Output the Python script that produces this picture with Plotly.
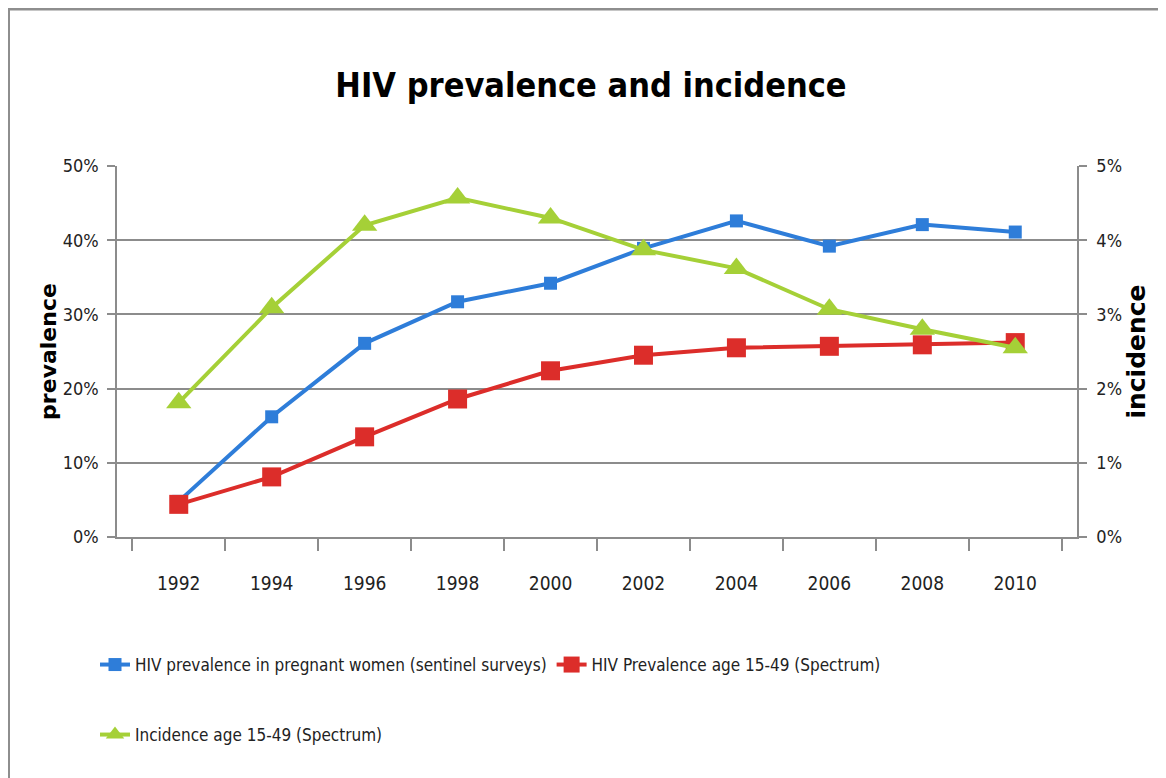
import plotly.graph_objects as go

years = ["1992", "1994", "1996", "1998", "2000", "2002", "2004", "2006", "2008", "2010"]
prev_pregnant = [0.048, 0.162, 0.261, 0.317, 0.342, 0.389, 0.426, 0.392, 0.421, 0.411]
prev_spectrum = [0.044, 0.081, 0.135, 0.186, 0.224, 0.245, 0.255, 0.257, 0.259, 0.262]
incidence = [0.0181, 0.0309, 0.0420, 0.0457, 0.0430, 0.0387, 0.0362, 0.0307, 0.0280, 0.0255]

names = ["HIV prevalence in pregnant women (sentinel surveys)",
         "HIV Prevalence age 15-49 (Spectrum)",
         "Incidence age 15-49 (Spectrum)"]

FONT = "DejaVu Sans Condensed, Liberation Sans, sans-serif"
BOLD_FONT = "DejaVu Sans, Verdana, sans-serif"
BLUE = "#2E7DD9"
RED = "#DC2D2A"
GREEN = "#A5D037"
GRID = "#8C8C8C"
TXT = "#222222"

# plot area in figure pixels (page is offset by 8px body margin)
PL, PR, PT, PB = 109, 1069, 158, 529
W, H = 1166, 778


def px_x(fx):
    return (fx - PL) / (PR - PL)


def px_y(fy):
    return (PB - fy) / (PB - PT)


fig = go.Figure()
fig.add_trace(go.Scatter(x=years, y=prev_pregnant, name=names[0], mode="lines+markers",
                         line=dict(color=BLUE, width=4),
                         marker=dict(symbol="square", size=13, color=BLUE),
                         legend="legend"))
fig.add_trace(go.Scatter(x=years, y=prev_spectrum, name=names[1], mode="lines+markers",
                         line=dict(color=RED, width=4),
                         marker=dict(symbol="square", size=19, color=RED),
                         legend="legend"))
fig.add_trace(go.Scatter(x=years, y=incidence, name=names[2], mode="lines+markers",
                         line=dict(color=GREEN, width=4),
                         marker=dict(symbol="triangle-up", size=22, color=GREEN),
                         yaxis="y2", legend="legend2"))

fig.update_layout(
    width=W, height=H,
    margin=dict(l=PL, r=W - PR, t=PT, b=H - PB),
    paper_bgcolor="white", plot_bgcolor="white",
    font=dict(family=FONT, size=19, color=TXT),
    title=dict(text="<b>HIV prevalence and incidence</b>", x=0.5, xanchor="center",
               y=1 - 77 / H, yanchor="middle",
               font=dict(family=FONT, size=34, color="black")),
    xaxis=dict(type="category", showgrid=False, showline=True, linecolor=GRID, linewidth=1.5,
               ticks="outside", tickson="boundaries", ticklen=12, tickcolor=GRID, tickwidth=1.5,
               ticklabelstandoff=28, tickfont=dict(size=19, color=TXT)),
    yaxis=dict(range=[0, 0.5], dtick=0.1, tickformat=".0%", showgrid=True, gridcolor=GRID,
               gridwidth=1.5, showline=True, linecolor=GRID, linewidth=1.5, ticks="outside",
               ticklen=8, tickcolor=GRID, tickwidth=1.5, zeroline=False, ticklabelstandoff=5,
               tickfont=dict(size=18, color=TXT),
               title=dict(text="<b>prevalence</b>", standoff=0,
                          font=dict(family=BOLD_FONT, size=22, color="black"))),
    yaxis2=dict(range=[0, 0.05], dtick=0.01, tickformat=".0%", overlaying="y", side="right",
                showgrid=False, showline=True, linecolor=GRID, linewidth=1.5, ticks="outside",
                ticklen=8, tickcolor=GRID, tickwidth=1.5, zeroline=False, ticklabelstandoff=6,
                tickfont=dict(size=18, color=TXT),
                title=dict(text="<b>incidence</b>", standoff=4,
                           font=dict(family=BOLD_FONT, size=25, color="black"))),
    legend=dict(orientation="h", x=px_x(87), xanchor="left", y=px_y(665 - 8), yanchor="middle",
                font=dict(size=17, color=TXT), itemwidth=30),
    legend2=dict(orientation="h", x=px_x(87), xanchor="left", y=px_y(735 - 8), yanchor="middle",
                 font=dict(size=17, color=TXT), itemwidth=30),
    shapes=[
        dict(type="line", xref="paper", yref="paper", x0=px_x(0), x1=px_x(W),
             y0=px_y(1), y1=px_y(1), line=dict(color="#8E8E8E", width=3)),
        dict(type="line", xref="paper", yref="paper", x0=px_x(0.5), x1=px_x(0.5),
             y0=px_y(0), y1=px_y(H), line=dict(color="#8E8E8E", width=3)),
    ],
)

fig.write_html("out.html")
